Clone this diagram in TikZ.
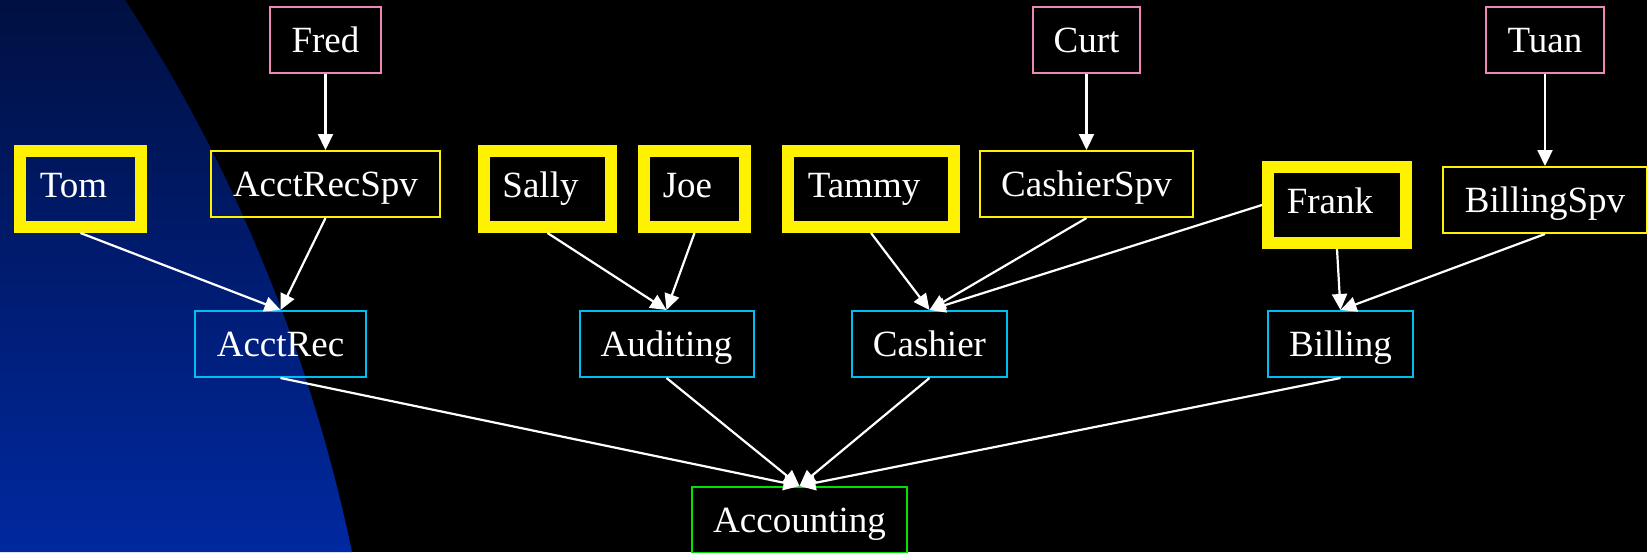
\documentclass[tikz,border=0pt]{standalone}
\usepackage{fontspec}
\setmainfont{Liberation Serif}
\usetikzlibrary{arrows.meta}
\definecolor{bosspink}{RGB}{238,134,182}
\definecolor{deptcyan}{RGB}{0,190,240}
\definecolor{headgreen}{RGB}{0,225,0}
\definecolor{navytop}{RGB}{0,16,66}
\definecolor{navybottom}{RGB}{0,40,160}
\begin{document}
\begin{tikzpicture}[x=1pt,y=-1pt,
    box/.style={draw,rectangle,inner sep=0pt,text=white,
      font=\fontsize{37}{40}\selectfont,text height=24.5pt,text depth=0pt,
      minimum height=66pt},
    boss/.style={box,draw=bosspink,line width=2pt},
    spv/.style={box,draw=yellow,line width=2pt},
    worker/.style={box,draw=yellow,line width=12pt,minimum height=76pt,
      text depth=8pt,execute at end node={\hspace*{14pt}}},
    dept/.style={box,draw=deptcyan,line width=2pt},
    head/.style={box,draw=headgreen,line width=2pt},
    link/.style={white,line width=2.2pt,-{Triangle[length=16pt,width=15pt]}}]
    \path[use as bounding box,clip] (0,0) rectangle (1647,552);
    \fill[black] (0,0) rectangle (1647,552);
    \shade[top color=navytop,bottom color=navybottom]
        (0,0) -- (125,0) .. controls (230,160) and (310,350) .. (352,552) -- (0,552) -- cycle;
    % bosses
    \node[boss,minimum width=111pt] (fred) at (325.5,40) {Fred};
    \node[boss,minimum width=107pt] (curt) at (1086.5,40) {Curt};
    \node[boss,minimum width=118pt] (tuan) at (1545,40) {Tuan};
    % staff
    \node[worker,minimum width=121pt] (tom) at (80.5,189) {Tom};
    \node[spv,minimum width=229pt] (acctrecspv) at (325.5,184) {AcctRecSpv};
    \node[worker,minimum width=127pt] (sally) at (547.5,189) {Sally};
    \node[worker,minimum width=101pt] (joe) at (694.5,189) {Joe};
    \node[worker,minimum width=166pt] (tammy) at (871,189) {Tammy};
    \node[spv,minimum width=213pt] (cashierspv) at (1086.5,184) {CashierSpv};
    \node[worker,minimum width=138pt] (frank) at (1337,205) {Frank};
    \node[spv,minimum width=204pt] (billingspv) at (1545,200) {BillingSpv};
    % departments
    \node[dept,minimum width=171pt] (acctrec) at (280.5,344) {AcctRec};
    \node[dept,minimum width=174pt] (auditing) at (666.5,344) {Auditing};
    \node[dept,minimum width=155pt] (cashier) at (929.5,344) {Cashier};
    \node[dept,minimum width=145pt] (billing) at (1340.5,344) {Billing};
    \node[head,minimum width=215pt] (accounting) at (799.5,520) {Accounting};
    % edges
    \draw[link] (fred.south) -- (acctrecspv.north);
    \draw[link] (curt.south) -- (cashierspv.north);
    \draw[link] (tuan.south) -- (billingspv.north);
    \draw[link] (tom.south) -- (acctrec.north);
    \draw[link] (acctrecspv.south) -- (acctrec.north);
    \draw[link] (sally.south) -- (auditing.north);
    \draw[link] (joe.south) -- (auditing.north);
    \draw[link] (tammy.south) -- (cashier.north);
    \draw[link] (cashierspv.south) -- (cashier.north);
    \draw[link] (frank.west) -- (cashier.north);
    \draw[link] (frank.south) -- (billing.north);
    \draw[link] (billingspv.south) -- (billing.north);
    \foreach \d in {acctrec,auditing,cashier,billing}
        \draw[link] (\d.south) -- (accounting.north);
\end{tikzpicture}
\end{document}
